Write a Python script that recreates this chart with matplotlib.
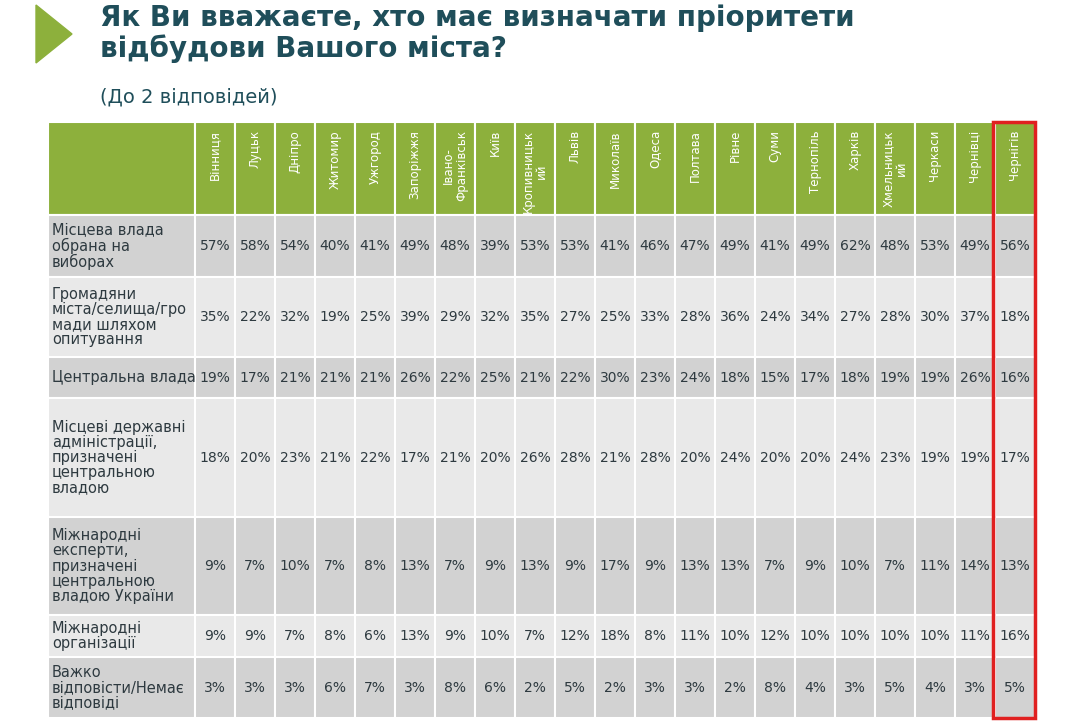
import matplotlib.pyplot as plt
from matplotlib.patches import Rectangle, Polygon

cities = ['Вінниця', 'Луцьк', 'Дніпро', 'Житомир', 'Ужгород', 'Запоріжжя',
          'Івано-\nФранківськ', 'Київ', 'Кропивницьк\nий', 'Львів', 'Миколаїв',
          'Одеса', 'Полтава', 'Рівне', 'Суми', 'Тернопіль', 'Харків',
          'Хмельницьк\nий', 'Черкаси', 'Чернівці', 'Чернігів']

row_labels = ['Місцева влада\nобрана на\nвиборах',
              'Громадяни\nміста/селища/гро\nмади шляхом\nопитування',
              'Центральна влада',
              'Місцеві державні\nадміністрації,\nпризначені\nцентральною\nвладою',
              'Міжнародні\nексперти,\nпризначені\nцентральною\nвладою України',
              'Міжнародні\nорганізації',
              'Важко\nвідповісти/Немає\nвідповіді']

local_elected = [57, 58, 54, 40, 41, 49, 48, 39, 53, 53, 41, 46, 47, 49, 41, 49, 62, 48, 53, 49, 56]
citizens_poll = [35, 22, 32, 19, 25, 39, 29, 32, 35, 27, 25, 33, 28, 36, 24, 34, 27, 28, 30, 37, 18]
central_gov = [19, 17, 21, 21, 21, 26, 22, 25, 21, 22, 30, 23, 24, 18, 15, 17, 18, 19, 19, 26, 16]
local_admin = [18, 20, 23, 21, 22, 17, 21, 20, 26, 28, 21, 28, 20, 24, 20, 20, 24, 23, 19, 19, 17]
intl_experts = [9, 7, 10, 7, 8, 13, 7, 9, 13, 9, 17, 9, 13, 13, 7, 9, 10, 7, 11, 14, 13]
intl_orgs = [9, 9, 7, 8, 6, 13, 9, 10, 7, 12, 18, 8, 11, 10, 12, 10, 10, 10, 10, 11, 16]
hard_to_say = [3, 3, 3, 6, 7, 3, 8, 6, 2, 5, 2, 3, 3, 2, 8, 4, 3, 5, 4, 3, 5]
rows = [local_elected, citizens_poll, central_gov, local_admin, intl_experts, intl_orgs, hard_to_say]

# layout (pixels)
x0, label_w, col_w = 48, 147, 40
row_edges = [122, 215, 277, 357, 398, 517, 615, 657, 718]
green = '#8db03c'
dark_row, light_row = '#d2d2d2', '#e9e9e9'
text_col = '#2e3a40'

fig = plt.figure(figsize=(10.8, 7.22), dpi=100)
ax = fig.add_axes([0, 0, 1, 1])
ax.set_xlim(0, 1080)
ax.set_ylim(722, 0)
ax.axis('off')

ax.add_patch(Polygon([[36, 5], [36, 63], [72, 34]], closed=True, color='#8db03c'))
ax.text(100, 4, 'Як Ви вважаєте, хто має визначати пріоритети\nвідбудови Вашого міста?',
        fontsize=20, fontweight='bold', color='#1f4e5a', va='top', linespacing=1.1)
ax.text(100, 97, '(До 2 відповідей)', fontsize=14, color='#1f4e5a', va='center')

# header
ax.add_patch(Rectangle((x0, row_edges[0]), label_w, row_edges[1] - row_edges[0],
                       facecolor=green, edgecolor='white', lw=1.5))
for j, c in enumerate(cities):
    cx = x0 + label_w + j * col_w
    ax.add_patch(Rectangle((cx, row_edges[0]), col_w, row_edges[1] - row_edges[0],
                           facecolor=green, edgecolor='white', lw=1.5))
    ax.text(cx + col_w / 2, row_edges[0] + 8, c, rotation=90, ha='center', va='top',
            fontsize=8.5, color='white', linespacing=1.0)

# body
for i, (lab, vals) in enumerate(zip(row_labels, rows)):
    top, bot = row_edges[i + 1], row_edges[i + 2]
    fc = dark_row if i % 2 == 0 else light_row
    ax.add_patch(Rectangle((x0, top), label_w, bot - top, facecolor=fc, edgecolor='white', lw=1.5))
    ax.text(x0 + 4, (top + bot) / 2, lab, ha='left', va='center', fontsize=10.5,
            color=text_col, linespacing=1.0)
    for j, v in enumerate(vals):
        cx = x0 + label_w + j * col_w
        ax.add_patch(Rectangle((cx, top), col_w, bot - top, facecolor=fc, edgecolor='white', lw=1.5))
        ax.text(cx + col_w / 2, (top + bot) / 2, f'{v}%', ha='center', va='center',
                fontsize=10, color=text_col)

# highlight last column
hx = x0 + label_w + (len(cities) - 1) * col_w
ax.add_patch(Rectangle((hx - 2, row_edges[0]), col_w + 2, row_edges[-1] - row_edges[0],
                       facecolor='none', edgecolor='#e02020', lw=2.5))

fig.savefig('out.png', dpi=100)
